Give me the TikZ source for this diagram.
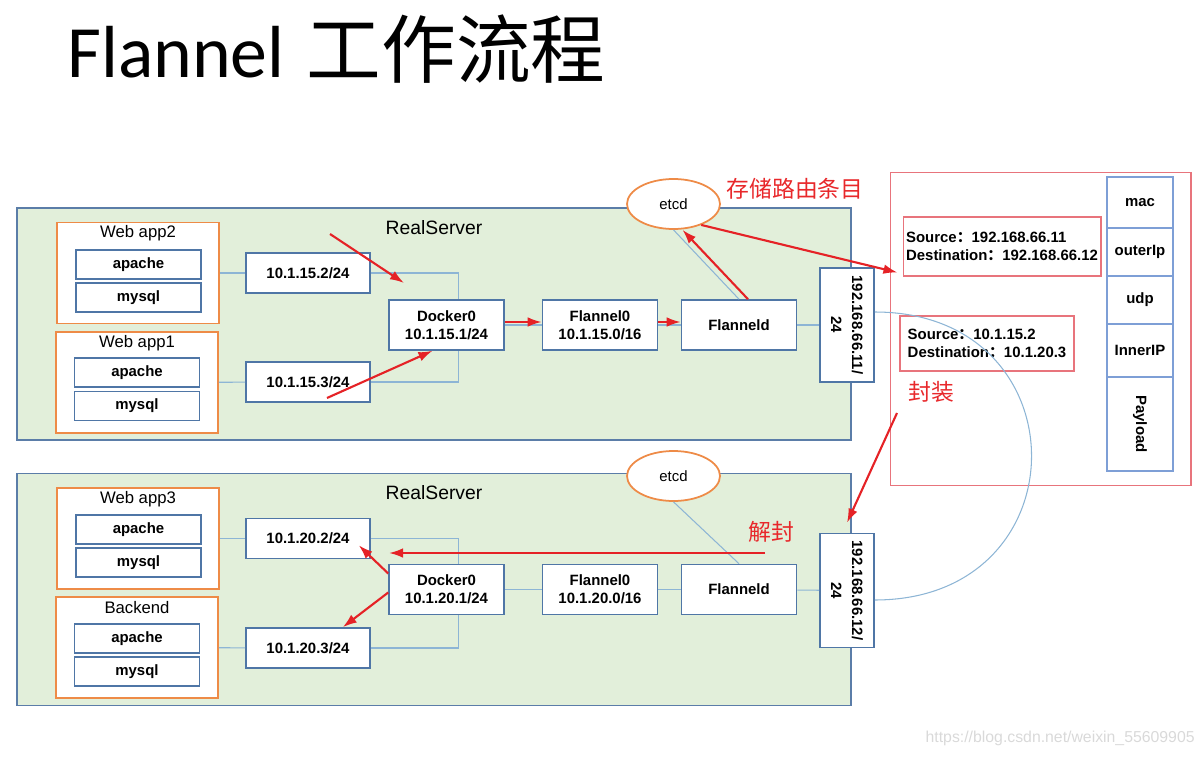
\documentclass[tikz,border=0pt]{standalone}
\usepackage{fontspec}
\setmainfont{Liberation Sans}
\newfontfamily\cjk{Noto Sans CJK SC}
\newfontfamily\latf{Carlito}
\usetikzlibrary{arrows.meta,shapes.geometric}
\definecolor{srvgreen}{HTML}{E2EFDA}
\definecolor{srvblue}{HTML}{5B7DA8}
\definecolor{boxblue}{HTML}{4F76A6}
\definecolor{linkblue}{HTML}{8DB5D5}
\definecolor{apporange}{HTML}{EE8B47}
\definecolor{arrred}{HTML}{E52226}
\definecolor{pktred}{HTML}{E8747C}
\definecolor{colblue}{HTML}{7E9FD6}
\definecolor{lblred}{HTML}{E8282B}

\begin{document}
\begin{tikzpicture}[x=0.02cm,y=-0.02cm]
  \tikzstyle{srv}=[rectangle,draw=srvblue,fill=srvgreen,line width=0.9pt,minimum width=16.68cm,minimum height=4.64cm,inner sep=0pt]
  \tikzstyle{app}=[rectangle,draw=apporange,fill=white,line width=1pt,minimum width=3.24cm,minimum height=2.02cm,inner sep=0pt]
  \tikzstyle{svc}=[rectangle,draw=boxblue,fill=white,line width=0.9pt,minimum width=2.5cm,minimum height=0.58cm,inner sep=0pt,font=\bfseries\fontsize{8.5}{10}\selectfont]
  \tikzstyle{ipb}=[svc,minimum width=2.48cm,minimum height=0.8cm]
  \tikzstyle{dev}=[svc,minimum width=2.3cm,minimum height=1cm,align=center,font=\bfseries\fontsize{8.5}{10.5}\selectfont]
  \tikzstyle{nic}=[svc,rotate=-90,minimum width=2.28cm,minimum height=1.08cm,align=center,font=\bfseries\fontsize{8.5}{12}\selectfont]
  \tikzstyle{etcd}=[ellipse,draw=apporange,fill=white,line width=1pt,minimum width=1.86cm,minimum height=1cm,inner sep=0pt,font=\fontsize{8.5}{10}\selectfont]
  \tikzstyle{lbl}=[inner sep=0pt,font=\fontsize{9.5}{11}\selectfont]
  \tikzstyle{cell}=[svc,draw=colblue,line width=0.7pt,minimum width=1.32cm]
  \tikzstyle{hdr}=[rectangle,draw=pktred,line width=0.6pt,inner sep=0pt,align=left,font=\bfseries\fontsize{8.5}{10.2}\selectfont]
  \tikzstyle{link}=[draw=linkblue,line width=0.6pt]
  \tikzstyle{flow}=[draw=arrred,line width=1.2pt,-{Latex[length=8pt,width=5.5pt]}]
  \tikzstyle{note}=[inner sep=0pt,text=lblred,font=\cjk\fontsize{13}{15}\selectfont]

  \useasboundingbox (0,0) rectangle (1204,757);
  \node[anchor=base west,inner sep=0pt] (title) at (67,78) {\latf\fontsize{42}{46}\selectfont Flannel {\cjk\hspace{3pt}\fontsize{42.5}{46}\selectfont 工作流程}};

  \node[srv] (srv1) at (434,324) {};
  \node[srv] (srv2) at (434,589.5) {};
  \node[lbl,font=\fontsize{11}{13}\selectfont] (rs1) at (434,228) {RealServer};
  \node[lbl,font=\fontsize{11}{13}\selectfont] (rs2) at (434,493) {RealServer};

  \node[app] (app2) at (138,273) {};
  \node[lbl] (app2l) at (138,233) {Web app2};
  \node[svc] (ap2) at (138.5,264.5) {apache};
  \node[svc] (my2) at (138.5,297.5) {mysql};
  \node[app] (app1) at (137,382.5) {};
  \node[lbl] (app1l) at (137,343) {Web app1};
  \node[svc] (ap1) at (137,372.5) {apache};
  \node[svc] (my1) at (137,406) {mysql};

  \node[ipb] (ip152) at (308,273) {10.1.15.2/24};
  \node[ipb] (ip153) at (308,382) {10.1.15.3/24};
  \node[dev] (dk1) at (446.5,325) {Docker0\\10.1.15.1/24};
  \node[dev] (fl1) at (600,325) {Flannel0\\10.1.15.0/16};
  \node[dev] (fd1) at (739,325) {Flanneld};
  \node[nic] (nic1) at (847,325) {192.168.66.11/\\24};
  \node[etcd] (etcd1) at (673.5,204) {etcd};
  \node[note] (store) at (795,189) {存储路由条目};

  \node[app] (app3) at (138,538.5) {};
  \node[lbl] (app3l) at (138,499) {Web app3};
  \node[svc] (ap3) at (138.5,529.5) {apache};
  \node[svc] (my3) at (138.5,562.5) {mysql};
  \node[app] (bknd) at (137,647.5) {};
  \node[lbl] (bkndl) at (137,608) {Backend};
  \node[svc] (ap4) at (137,638.5) {apache};
  \node[svc] (my4) at (137,671.5) {mysql};

  \node[ipb] (ip202) at (308,538.5) {10.1.20.2/24};
  \node[ipb] (ip203) at (308,648) {10.1.20.3/24};
  \node[dev] (dk2) at (446.5,589.5) {Docker0\\10.1.20.1/24};
  \node[dev] (fl2) at (600,589.5) {Flannel0\\10.1.20.0/16};
  \node[dev] (fd2) at (739,589.5) {Flanneld};
  \node[nic] (nic2) at (847,590.5) {192.168.66.12/\\24};
  \node[etcd] (etcd2) at (673.5,476) {etcd};
  \node[note] (decap) at (771,532) {解封};

  \node[rectangle,draw=pktred,line width=0.6pt,minimum width=6.02cm,minimum height=6.28cm] (pkt) at (1040.5,329) {};
  \node[cell,minimum height=1.02cm] (cmac) at (1140,202.5) {mac};
  \node[cell,minimum height=0.96cm] (cout) at (1140,252) {outerIp};
  \node[cell,minimum height=0.96cm] (cudp) at (1140,300) {udp};
  \node[cell,minimum height=1.06cm] (cin) at (1140,350.5) {InnerIP};
  \node[cell,rotate=-90,minimum width=1.88cm,minimum height=1.32cm] (cpay) at (1140,424) {Payload};
  \node[hdr,minimum width=3.96cm,minimum height=1.18cm] (src1) at (1002,246.5) {Source{\cjk ：}192.168.66.11\\Destination{\cjk ：}192.168.66.12};
  \node[hdr,minimum width=3.48cm,minimum height=1.1cm] (src2) at (987,343.5) {Source{\cjk ：}10.1.15.2\\Destination{\cjk ：}10.1.20.3};
  \node[note] (encap) at (931,392) {封装};

  \node[anchor=east,inner sep=0pt,text=gray!30,font=\fontsize{9}{11}\selectfont] (wm) at (1195,738) {https://blog.csdn.net/weixin\_55609905};

  \draw[link] (app2) -- (ip152);
  \draw[link] (ip152.east) -| ([xshift=0.24cm]dk1.north);
  \draw[link] (app1) -- (ip153);
  \draw[link] (ip153.east) -| ([xshift=0.24cm]dk1.south);
  \draw[link] (dk1) -- (fl1);
  \draw[link] (fl1) -- (fd1);
  \draw[link] (fd1) -- (nic1);
  \draw[link] (fd1.north) -- (etcd1.south);

  \draw[link] (app3) -- (ip202);
  \draw[link] (ip202.east) -| ([xshift=0.24cm]dk2.north);
  \draw[link] (bknd) -- (ip203);
  \draw[link] (ip203.east) -| ([xshift=0.24cm]dk2.south);
  \draw[link] (dk2) -- (fl2);
  \draw[link] (fl2) -- (fd2);
  \draw[link] (fd2) -- (nic2);
  \draw[link] (etcd2.south) -- (fd2.north);

  \draw[link] ([yshift=0.26cm]nic1.north) .. controls +(209,0) and +(209,0) .. ([yshift=-0.19cm]nic2.north);

  \coordinate (r1s) at (330,234);
  \coordinate (r1e) at (404,283);
  \coordinate (r2s) at (327,398);
  \coordinate (r7s) at (897,413);
  \coordinate (r8s) at (765,553);
  \coordinate (r8e) at (389,553);

  \draw[flow] (r1s) -- (r1e);
  \draw[flow] (r2s) -- ([xshift=-0.28cm]dk1.south);
  \draw[flow] ([yshift=0.06cm]dk1.east) -- ([yshift=0.06cm]fl1.west);
  \draw[flow] ([yshift=0.06cm]fl1.east) -- ([yshift=0.06cm]fd1.west);
  \draw[flow] ([xshift=0.18cm]fd1.north) -- ([xshift=0.18cm]etcd1.south);
  \draw[flow] (etcd1.-37) -- ([shift={(-0.1cm,0.08cm)}]src1.south west);
  \draw[flow] (r7s) -- ([yshift=0.2cm]nic2.west);
  \draw[flow] (r8s) -- (r8e);
  \draw[flow] ([yshift=0.32cm]dk2.west) -- ([shift={(-0.24cm,0.28cm)}]ip202.south east);
  \draw[flow] ([yshift=-0.06cm]dk2.west) -- ([xshift=-0.56cm]ip203.north east);
\end{tikzpicture}
\end{document}
